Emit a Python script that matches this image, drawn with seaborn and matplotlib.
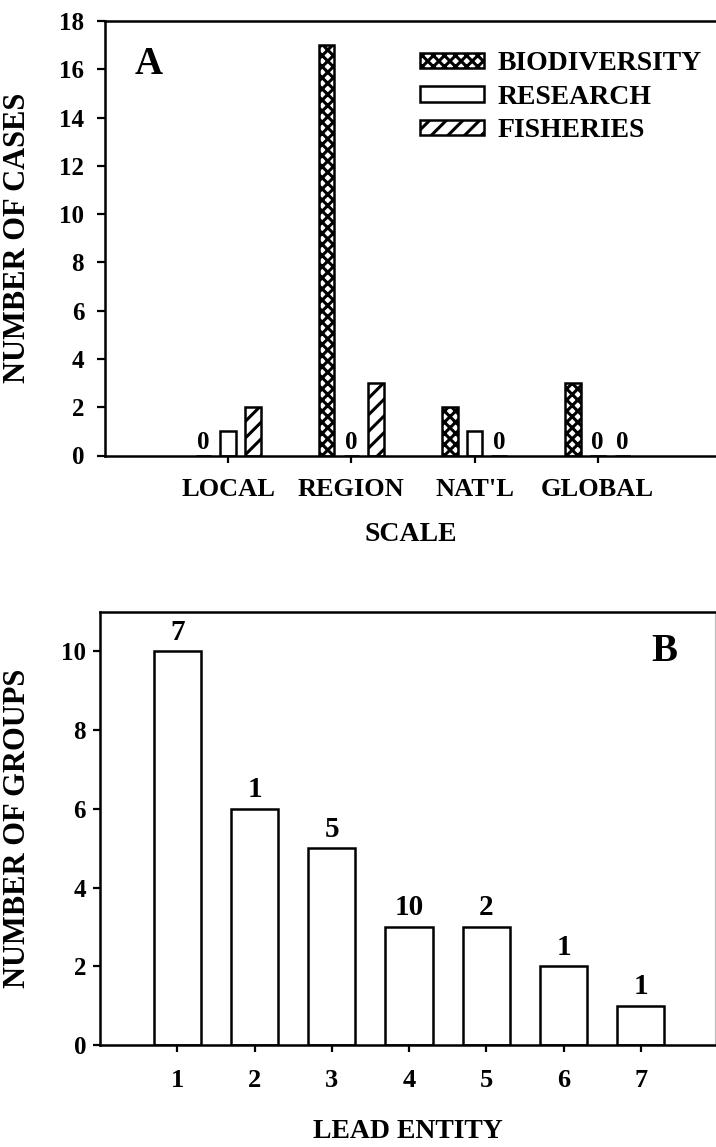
import matplotlib
matplotlib.use("Agg")
import matplotlib.pyplot as plt
from matplotlib.patches import Patch
import seaborn as sns
import pandas as pd

# ---------------- data ----------------
scales = ["LOCAL", "REGION", "NAT'L", "GLOBAL"]
biodiversity = [0, 17, 2, 3]
research = [1, 0, 1, 0]
fisheries = [2, 3, 0, 0]
series_names = ["BIODIVERSITY", "RESEARCH", "FISHERIES"]

lead_entity = ["1", "2", "3", "4", "5", "6", "7"]
groups = [10, 6, 5, 3, 3, 2, 1]
top_labels = ["7", "1", "5", "10", "2", "1", "1"]

# ---------------- style ----------------
sns.set_style("ticks")
plt.rcParams["font.family"] = ["Liberation Serif", "DejaVu Serif"]
plt.rcParams["font.weight"] = "bold"
plt.rcParams["text.color"] = "black"
plt.rcParams["axes.labelcolor"] = "black"
plt.rcParams["xtick.color"] = "black"
plt.rcParams["ytick.color"] = "black"
plt.rcParams["hatch.linewidth"] = 2.2
plt.rcParams["hatch.color"] = "black"

fig = plt.figure(figsize=(7.16, 11.47), dpi=100)

W, H = 716.0, 1147.0
axA = fig.add_axes([105 / W, 1 - 455.5 / H, (716 - 105) / W, (455.5 - 21) / H])
axB = fig.add_axes([100 / W, 1 - 1045 / H, (715 - 100) / W, (1045 - 612) / H])

LW = 1.8

# ---------------- panel A ----------------
dfA = pd.DataFrame({
    "scale": scales * 3,
    "series": sum([[s] * len(scales) for s in series_names], []),
    "value": biodiversity + research + fisheries,
})
sns.barplot(data=dfA, x="scale", y="value", hue="series", order=scales,
            hue_order=series_names, width=0.6, gap=0.37, ax=axA,
            palette=["white"] * 3, edgecolor="black", linewidth=LW,
            legend=False, saturation=1)

hatches = ["xxx", "", "//"]
for cont, h in zip(axA.containers, hatches):
    for bar in cont:
        bar.set_hatch(h)
        bar.set_facecolor("white")
        bar.set_edgecolor("black")
        if bar.get_height() == 0:
            axA.text(bar.get_x() + bar.get_width() / 2, 0.05, "0",
                     ha="center", va="bottom", fontsize=18, fontweight="bold")

axA.set_ylim(0, 18)
axA.set_xlim(-1.0, 3.96)
axA.set_yticks(range(0, 19, 2))
axA.set_xlabel("SCALE", fontsize=20, fontweight="bold")
axA.set_ylabel("NUMBER OF CASES", fontsize=22, fontweight="bold")
axA.xaxis.set_label_coords(0.5, -0.153)
axA.yaxis.set_label_coords(-0.119, 0.5)
axA.tick_params(axis="x", length=5, width=1.6, pad=11.5, labelsize=19)
axA.tick_params(axis="y", length=6, width=1.6, pad=9, labelsize=18)
for lab in axA.get_xticklabels() + axA.get_yticklabels():
    lab.set_fontweight("bold")
for side in ["left", "top", "bottom"]:
    axA.spines[side].set_linewidth(LW)
    axA.spines[side].set_color("black")
axA.spines["right"].set_visible(False)

axA.text(0.072, 0.901, "A", transform=axA.transAxes, ha="center", va="center",
         fontsize=28, fontweight="bold")

handles = [Patch(facecolor="white", edgecolor="black", hatch=h, linewidth=LW)
           for h in hatches]
axA.legend(handles, series_names, loc="upper left", bbox_to_anchor=(0.5155, 0.93),
           frameon=False, handlelength=2.3, handleheight=0.47,
           handletextpad=0.5, labelspacing=0.3, borderpad=0, borderaxespad=0,
           prop={"weight": "bold", "size": 20})

# ---------------- panel B ----------------
dfB = pd.DataFrame({"entity": lead_entity, "groups": groups})
sns.barplot(data=dfB, x="entity", y="groups", order=lead_entity, ax=axB,
            color="white", edgecolor="black", linewidth=LW, width=0.61,
            saturation=1)
for bar in axB.patches:
    bar.set_facecolor("white")
axB.bar_label(axB.containers[0], labels=top_labels, padding=4,
              fontsize=21, fontweight="bold")

axB.set_ylim(0, 11)
axB.set_xlim(-1.0, 6.96)
axB.set_yticks(range(0, 11, 2))
axB.set_xlabel("LEAD ENTITY", fontsize=20, fontweight="bold")
axB.set_ylabel("NUMBER OF GROUPS", fontsize=22, fontweight="bold")
axB.xaxis.set_label_coords(0.5, -0.171)
axB.yaxis.set_label_coords(-0.11, 0.5)
axB.tick_params(axis="x", length=5, width=1.6, pad=12, labelsize=19)
axB.tick_params(axis="y", length=5, width=1.6, pad=5, labelsize=18)
for lab in axB.get_xticklabels() + axB.get_yticklabels():
    lab.set_fontweight("bold")
for side in ["left", "top", "bottom"]:
    axB.spines[side].set_linewidth(LW)
    axB.spines[side].set_color("black")
axB.spines["right"].set_linewidth(0.8)
axB.spines["right"].set_color("#bbbbbb")

axB.text(0.917, 0.908, "B", transform=axB.transAxes, ha="center", va="center",
         fontsize=28, fontweight="bold")

fig.savefig("out.png", dpi=100)
